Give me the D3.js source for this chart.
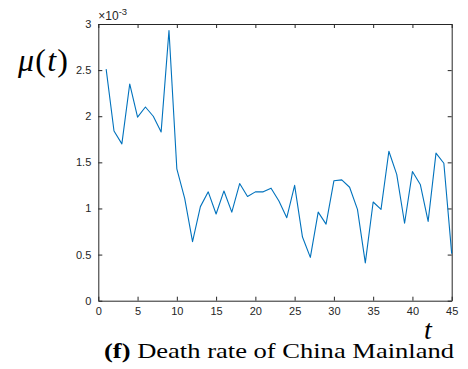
<!DOCTYPE html>
<html>
<head>
<meta charset="utf-8">
<script src="https://cdn.jsdelivr.net/npm/d3@7"></script>
<style>
  body { margin: 0; background: #fff; }
  svg { display: block; }
  .tick text { font-family: Arial, "Liberation Sans", Helvetica, sans-serif; fill: #262626; }
</style>
</head>
<body>
<script>
'use strict';

// days since start
const days = d3.range(1, 46)

// death rate, in units of 1e-3
const rates = [
    2.51, 1.84, 1.70, 2.35, 1.99, 2.10, 2.00, 1.83, 2.93, 1.43,
    1.11, 0.64, 1.02, 1.18, 0.94, 1.19, 0.96, 1.27, 1.13, 1.18,
    1.18, 1.22, 1.08, 0.90, 1.25, 0.69, 0.47, 0.96, 0.83, 1.30,
    1.31, 1.23, 0.99, 0.41, 1.07, 0.99, 1.62, 1.37, 0.84, 1.40,
    1.26, 0.86, 1.60, 1.49, 0.51
]

const xTicks = [0, 5, 10, 15, 20, 25, 30, 35, 40, 45]
const yTicks = [0, 0.5, 1, 1.5, 2, 2.5, 3]

const W = 468, H = 369
const box = { left: 98.3, right: 451.7, top: 24, bottom: 300.7 }
const axisColor = "#262626"

const svg = d3.select("body").append("svg")
    .attr("width", W)
    .attr("height", H)

const x = d3.scaleLinear().domain([0, 45]).range([box.left, box.right])
const y = d3.scaleLinear().domain([0, 3]).range([box.bottom, box.top])

// axes, ticks pointing inwards like matlab
function styleAxis(g) {
    g.select(".domain").attr("stroke", axisColor).attr("stroke-width", 1)
    g.selectAll(".tick line").attr("stroke", axisColor)
}

svg.append("g")
    .attr("transform", "translate(0," + box.bottom + ")")
    .call(d3.axisBottom(x).tickValues(xTicks).tickSizeInner(-4).tickSizeOuter(0).tickPadding(7))
    .call(styleAxis)
    .call(g => g.selectAll(".tick text").attr("font-size", "11px"))

svg.append("g")
    .attr("transform", "translate(0," + box.top + ")")
    .call(d3.axisTop(x).tickValues(xTicks).tickSizeInner(-4).tickSizeOuter(0).tickFormat(""))
    .call(styleAxis)

svg.append("g")
    .attr("transform", "translate(" + box.left + ",0)")
    .call(d3.axisLeft(y).tickValues(yTicks).tickSizeInner(-4).tickSizeOuter(0).tickPadding(7)
        .tickFormat(d3.format("")))
    .call(styleAxis)
    .call(g => g.selectAll(".tick text").attr("font-size", "11px"))

svg.append("g")
    .attr("transform", "translate(" + box.right + ",0)")
    .call(d3.axisRight(y).tickValues(yTicks).tickSizeInner(-4).tickSizeOuter(0).tickFormat(""))
    .call(styleAxis)

// exponent label
const expo = svg.append("text")
    .attr("x", box.left)
    .attr("y", 19.5)
    .attr("font-family", "Arial, 'Liberation Sans', sans-serif")
    .attr("font-size", "12px")
    .attr("fill", axisColor)
expo.append("tspan").text("\u00d710")
expo.append("tspan").attr("dy", -5).attr("font-size", "9.5px").text("-3")

// the series
const line = d3.line()
    .x((d, i) => x(days[i]))
    .y(d => y(d))

svg.append("path")
    .datum(rates)
    .attr("fill", "none")
    .attr("stroke", "#0072BD")
    .attr("stroke-width", 1.1)
    .attr("stroke-linejoin", "round")
    .attr("d", line)

// labels
const serif = "'Liberation Serif', 'DejaVu Serif', serif"

svg.append("text")
    .attr("x", 18)
    .attr("y", 71)
    .attr("font-family", serif)
    .attr("font-size", "32px")
    .attr("fill", "#000")
    .attr("textLength", 50)
    .attr("lengthAdjust", "spacing")
    .html("<tspan font-style='italic'>\u03bc</tspan>(<tspan font-style='italic'>t</tspan>)")

svg.append("text")
    .attr("x", 424)
    .attr("y", 339)
    .attr("font-family", serif)
    .attr("font-style", "italic")
    .attr("font-size", "28px")
    .attr("fill", "#000")
    .text("t")

svg.append("text")
    .attr("x", 104)
    .attr("y", 358)
    .attr("font-family", serif)
    .attr("font-size", "21px")
    .attr("fill", "#000")
    .attr("textLength", 350)
    .attr("lengthAdjust", "spacingAndGlyphs")
    .html("<tspan font-weight='bold'>(f)</tspan> Death rate of China Mainland")
</script>
</body>
</html>
